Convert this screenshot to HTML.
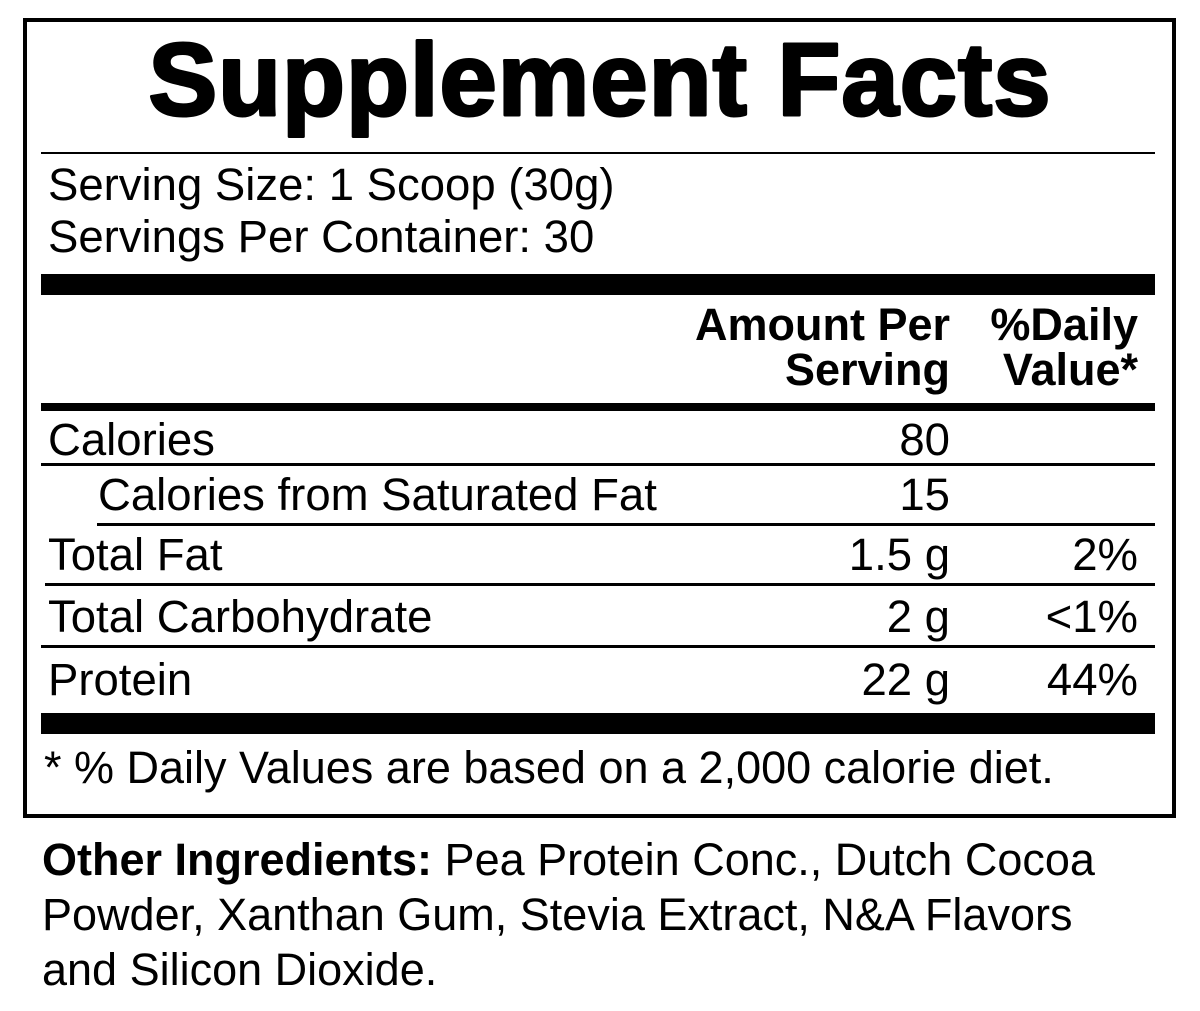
<!DOCTYPE html>
<html><head><meta charset="utf-8"><style>
html,body{margin:0;padding:0;background:#fff;width:1200px;height:1011px;overflow:hidden}
svg{display:block}
text{font-family:"Liberation Sans",Arial,sans-serif;fill:#000}
</style></head><body>
<svg width="1200" height="1011" viewBox="0 0 1200 1011">
<rect x="25" y="20" width="1149" height="796" fill="none" stroke="#000" stroke-width="4"/>
<text x="600" y="115" text-anchor="middle" font-size="103" font-weight="bold" stroke="#000" stroke-width="3" stroke-linejoin="round" letter-spacing="1">Supplement Facts</text>
<rect x="41" y="152" width="1114" height="2"/>
<text x="48" y="200" font-size="45.5">Serving Size: 1 Scoop (30g)</text>
<text x="48" y="252" font-size="45.5">Servings Per Container: 30</text>
<rect x="41" y="274" width="1114" height="21"/>
<text x="950" y="340" font-size="45" font-weight="bold" text-anchor="end">Amount Per</text>
<text x="950" y="385" font-size="45" font-weight="bold" text-anchor="end">Serving</text>
<text x="1138" y="340" font-size="45" font-weight="bold" text-anchor="end">%Daily</text>
<text x="1138" y="385" font-size="45" font-weight="bold" text-anchor="end">Value*</text>
<rect x="41" y="403" width="1114" height="8"/>
<text x="48" y="455" font-size="45.5">Calories</text>
<text x="950" y="455" font-size="45.5" text-anchor="end">80</text>
<rect x="41" y="463" width="1114" height="3"/>
<text x="98" y="510" font-size="45.5">Calories from Saturated Fat</text>
<text x="950" y="510" font-size="45.5" text-anchor="end">15</text>
<rect x="97" y="523" width="1058" height="3"/>
<text x="48" y="570" font-size="45.5">Total Fat</text>
<text x="950" y="570" font-size="45.5" text-anchor="end">1.5 g</text>
<text x="1138" y="570" font-size="45.5" text-anchor="end">2%</text>
<rect x="45" y="583" width="1110" height="3"/>
<text x="48" y="632" font-size="45.5">Total Carbohydrate</text>
<text x="950" y="632" font-size="45.5" text-anchor="end">2 g</text>
<text x="1138" y="632" font-size="45.5" text-anchor="end">&lt;1%</text>
<rect x="41" y="645" width="1114" height="3"/>
<text x="48" y="695" font-size="45.5">Protein</text>
<text x="950" y="695" font-size="45.5" text-anchor="end">22 g</text>
<text x="1138" y="695" font-size="45.5" text-anchor="end">44%</text>
<rect x="41" y="713" width="1114" height="21"/>
<text x="44" y="783" font-size="45">* % Daily Values are based on a 2,000 calorie diet.</text>
<text x="42" y="875" font-size="45"><tspan font-weight="bold">Other Ingredients:</tspan> Pea Protein Conc., Dutch Cocoa</text>
<text x="42" y="930" font-size="45">Powder, Xanthan Gum, Stevia Extract, N&amp;A Flavors</text>
<text x="42" y="985" font-size="45">and Silicon Dioxide.</text>
</svg>
</body></html>
